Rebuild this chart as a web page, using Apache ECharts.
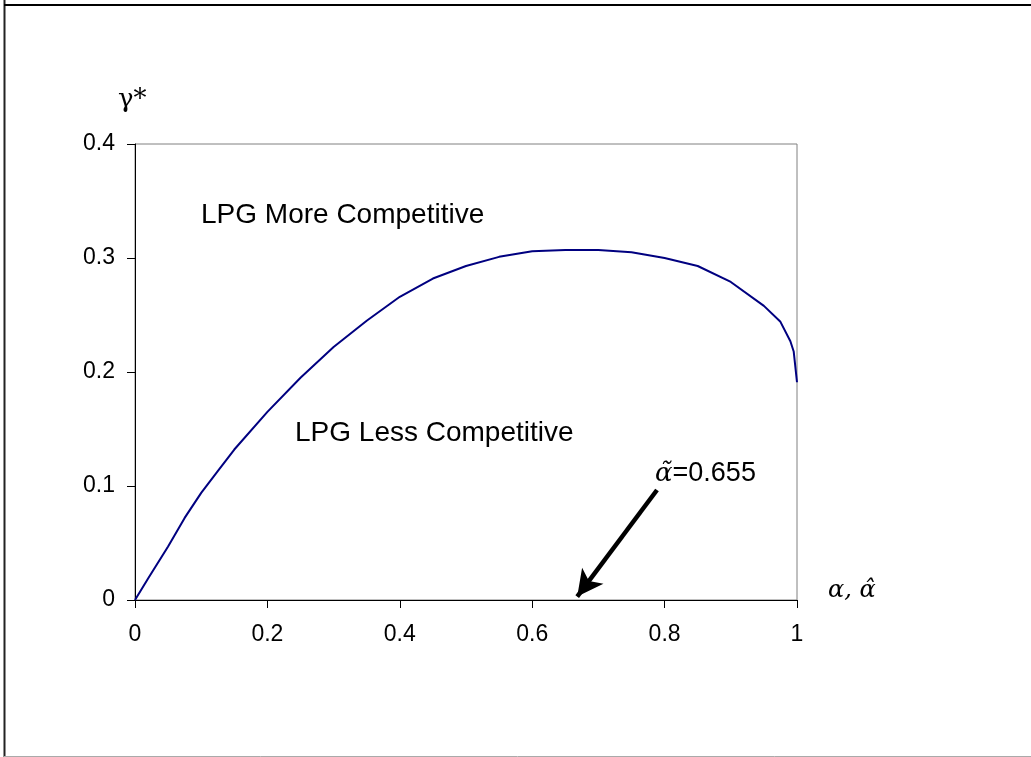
<!DOCTYPE html>
<html>
<head>
<meta charset="utf-8">
<script src="https://cdn.jsdelivr.net/npm/echarts@6/dist/echarts.min.js"></script>
<style>
html,body{margin:0;padding:0;background:#fff;}
#chart{width:1031px;height:757px;}
</style>
</head>
<body>
<div id="chart"></div>
<script>
// Data
const alphaValues = [0, 0.02, 0.05, 0.075, 0.1, 0.125, 0.15, 0.2, 0.25, 0.3, 0.35, 0.4, 0.45, 0.5, 0.55, 0.6, 0.65, 0.7, 0.75, 0.8, 0.85, 0.9, 0.95, 0.975, 0.99, 0.995, 1.0];
const gammaValues = [0, 0.019, 0.047, 0.072, 0.094, 0.113, 0.132, 0.165, 0.195, 0.222, 0.245, 0.266, 0.282, 0.293, 0.301, 0.306, 0.307, 0.307, 0.305, 0.300, 0.293, 0.279, 0.258, 0.244, 0.227, 0.218, 0.191];
const xTicks = [0, 0.2, 0.4, 0.6, 0.8, 1];
const yTicks = [0, 0.1, 0.2, 0.3, 0.4];
const arrowStart = [0.7885, 0.0965];
const arrowEnd = [0.668, 0.003];

const chart = echarts.init(document.getElementById('chart'));
const pts = alphaValues.map((a, i) => [a, gammaValues[i]]);
const axisFont = {fontFamily: '"Liberation Sans", Arial', fontSize: 23, color: '#000'};
const sansFont = '"Liberation Sans", Arial, sans-serif';
const serifFont = '"DejaVu Serif", "Liberation Serif", serif';

chart.setOption({
  animation: false,
  backgroundColor: '#fff',
  grid: {left: 135, top: 144, width: 662, height: 456, show: true, borderColor: '#808080', borderWidth: 1, backgroundColor: 'transparent'},
  xAxis: {
    type: 'value', min: 0, max: 1, interval: 0.2,
    axisLine: {show: true, lineStyle: {color: '#000', width: 1}},
    axisTick: {show: true, inside: false, length: 8, lineStyle: {color: '#000'}},
    splitLine: {show: false},
    axisLabel: Object.assign({margin: 23, formatter: v => String(+v.toFixed(1))}, axisFont)
  },
  yAxis: {
    type: 'value', min: 0, max: 0.4, interval: 0.1,
    axisLine: {show: true, lineStyle: {color: '#000', width: 1}},
    axisTick: {show: true, inside: false, length: 8, lineStyle: {color: '#000'}},
    splitLine: {show: false},
    axisLabel: Object.assign({margin: 20, formatter: v => String(+v.toFixed(1))}, axisFont)
  },
  series: [{
    type: 'line',
    data: pts,
    showSymbol: false,
    smooth: false,
    lineStyle: {color: '#000080', width: 2},
    markLine: {
      silent: true,
      symbol: ['none', 'arrow'],
      symbolSize: [20, 26],
      label: {show: false},
      lineStyle: {color: '#000', width: 4.5, type: 'solid'},
      data: [[{coord: arrowStart}, {coord: arrowEnd}]]
    }
  }],
  graphic: [
    {type: 'line', shape: {x1: 4.5, y1: 0, x2: 4.5, y2: 757}, style: {stroke: '#222', lineWidth: 2}},
    {type: 'line', shape: {x1: 4, y1: 5, x2: 1031, y2: 5}, style: {stroke: '#000', lineWidth: 2}},
    {type: 'line', shape: {x1: 4, y1: 756.5, x2: 1031, y2: 756.5}, style: {stroke: '#aaa', lineWidth: 1}},
    {type: 'text', style: {x: 118, y: 100, verticalAlign: 'middle', text: 'γ*', font: '26px ' + serifFont, fill: '#000'}},
    {type: 'text', style: {x: 828, y: 591, verticalAlign: 'middle', text: 'α, α̂', font: 'italic 24px ' + serifFont, fill: '#000'}},
    {type: 'text', style: {x: 201, y: 215, verticalAlign: 'middle', text: 'LPG More Competitive', font: '28px ' + sansFont, fill: '#000'}},
    {type: 'text', style: {x: 295, y: 433, verticalAlign: 'middle', text: 'LPG Less Competitive', font: '28px ' + sansFont, fill: '#000'}},
    {type: 'text', style: {x: 655, y: 474, verticalAlign: 'middle',
      text: '{a|α̃}{b|=0.655}',
      rich: {
        a: {font: 'italic 26px ' + serifFont, fill: '#000'},
        b: {font: '27px ' + sansFont, fill: '#000'}
      }
    }}
  ]
});
</script>
</body>
</html>
